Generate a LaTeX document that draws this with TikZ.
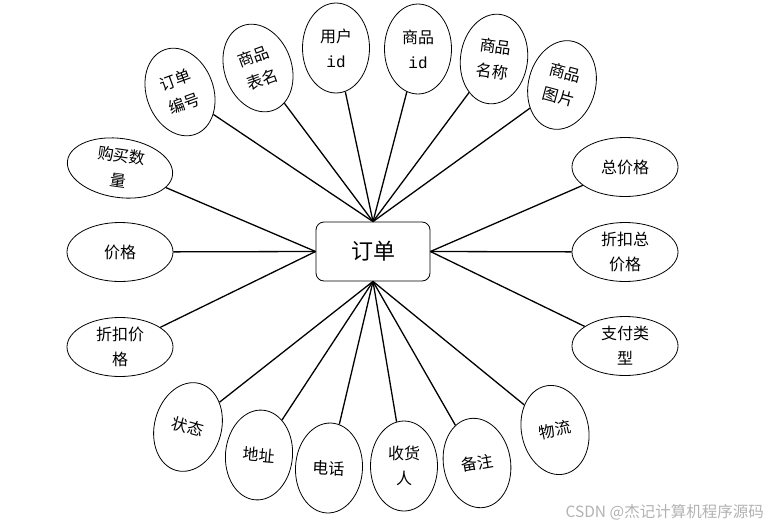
\documentclass[tikz,border=0pt]{standalone}
\usepackage{fontspec}
\setmainfont{Noto Sans CJK SC}
\newfontfamily\idfont{Liberation Mono}
\usetikzlibrary{shapes.geometric}
\begin{document}
\begin{tikzpicture}[x=1pt,y=-1pt,
  attr/.style={draw, ellipse, line width=0.8pt, inner sep=0pt, align=center,
    font=\fontsize{16}{25}\selectfont},
  tall/.style={attr, minimum width=67pt, minimum height=90pt},
  wide/.style={attr, minimum width=106pt, minimum height=59pt},
  link/.style={line width=1.3pt}]
\useasboundingbox (0,0) rectangle (771,525);
\node[draw, rounded corners=8pt, minimum width=114pt, minimum height=59pt,
  line width=0.8pt, font=\fontsize{22}{26}\selectfont] (c) at (373,251.5) {订单};
% top
\node[tall, rotate=20] (e1) at (180,92) {订单\\编号};
\node[tall, rotate=20] (e2) at (258,68) {商品\\表名};
\node[tall] (e3) at (336,48) {用户\\{\idfont id}};
\node[tall] (e4) at (418,49) {商品\\{\idfont id}};
\node[tall, rotate=-8] (e5) at (494,59) {商品\\名称};
\node[tall, rotate=-15] (e6) at (562,85) {商品\\图片};
% right
\node[wide] (r1) at (625,167) {总价格};
\node[wide] (r2) at (625,252) {折扣总\\价格};
\node[wide] (r3) at (625,346) {支付类\\型};
% left
\node[wide, rotate=-8] (l1) at (120,168) {购买数\\量};
\node[wide] (l2) at (120,252) {价格};
\node[wide] (l3) at (120,347) {折扣价\\格};
% bottom
\node[tall, rotate=-15] (b1) at (188,427) {状态};
\node[tall, rotate=-5] (b2) at (259,455) {地址};
\node[tall, rotate=-3] (b3) at (329,468) {电话};
\node[tall] (b4) at (404,466) {收货\\人};
\node[tall, rotate=10] (b5) at (477,463) {备注};
\node[tall, rotate=12] (b6) at (555,430) {物流};
% links
\foreach \n in {e1,e2,e3,e4,e5,e6} \draw[link] (c.north) -- (\n);
\foreach \n in {r1,r2,r3} \draw[link] (c.east) -- (\n);
\foreach \n in {l1,l2,l3} \draw[link] (c.west) -- (\n);
\foreach \n in {b1,b2,b3,b4,b5,b6} \draw[link] (c.south) -- (\n);
% watermark
\node[anchor=east, text=gray!60, inner sep=0pt, font=\fontsize{15.5}{18}\selectfont] (wm) at (764,512) {CSDN @杰记计算机程序源码};
\end{tikzpicture}
\end{document}
